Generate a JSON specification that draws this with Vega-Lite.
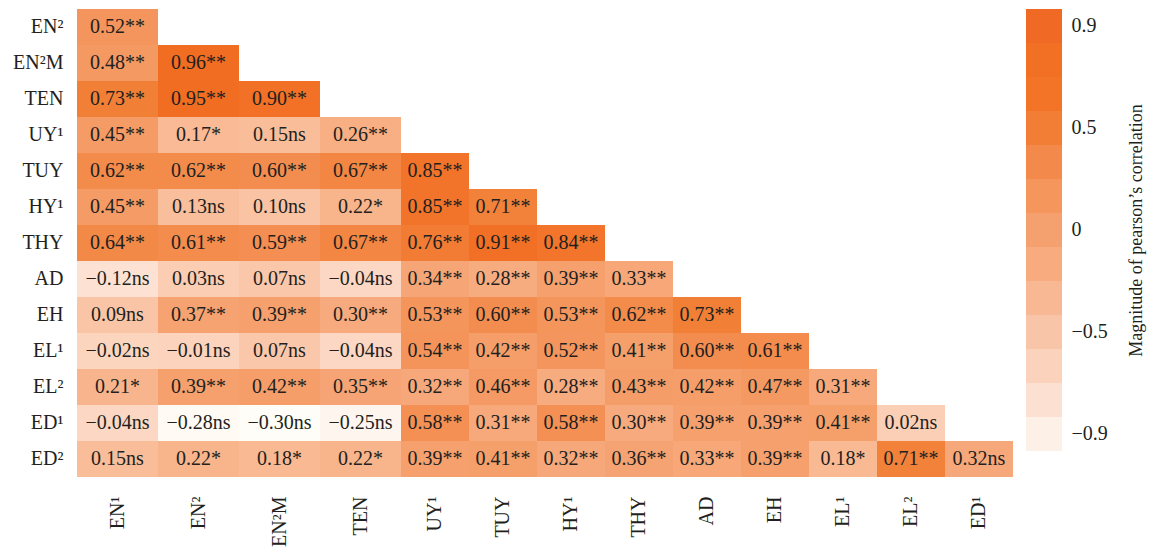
{
  "$schema": "https://vega.github.io/schema/vega-lite/v6.json",
  "padding": {"left": 5, "top": 9, "right": 5, "bottom": 5},
  "background": "white",
  "config": {
    "view": {"stroke": null},
    "font": "Liberation Serif",
    "axis": {"domain": false, "ticks": false, "grid": false, "labelFont": "Liberation Serif", "labelColor": "#231f20", "titleFont": "Liberation Serif", "titleColor": "#231f20", "titleFontWeight": "normal"}
  },
  "datasets": {
    "corr": [
      {"row": "EN²", "col": "EN¹", "r": 0.52, "txt": "0.52**"},
      {"row": "EN²M", "col": "EN¹", "r": 0.48, "txt": "0.48**"},
      {"row": "EN²M", "col": "EN²", "r": 0.96, "txt": "0.96**"},
      {"row": "TEN", "col": "EN¹", "r": 0.73, "txt": "0.73**"},
      {"row": "TEN", "col": "EN²", "r": 0.95, "txt": "0.95**"},
      {"row": "TEN", "col": "EN²M", "r": 0.90, "txt": "0.90**"},
      {"row": "UY¹", "col": "EN¹", "r": 0.45, "txt": "0.45**"},
      {"row": "UY¹", "col": "EN²", "r": 0.17, "txt": "0.17*"},
      {"row": "UY¹", "col": "EN²M", "r": 0.15, "txt": "0.15ns"},
      {"row": "UY¹", "col": "TEN", "r": 0.26, "txt": "0.26**"},
      {"row": "TUY", "col": "EN¹", "r": 0.62, "txt": "0.62**"},
      {"row": "TUY", "col": "EN²", "r": 0.62, "txt": "0.62**"},
      {"row": "TUY", "col": "EN²M", "r": 0.60, "txt": "0.60**"},
      {"row": "TUY", "col": "TEN", "r": 0.67, "txt": "0.67**"},
      {"row": "TUY", "col": "UY¹", "r": 0.85, "txt": "0.85**"},
      {"row": "HY¹", "col": "EN¹", "r": 0.45, "txt": "0.45**"},
      {"row": "HY¹", "col": "EN²", "r": 0.13, "txt": "0.13ns"},
      {"row": "HY¹", "col": "EN²M", "r": 0.10, "txt": "0.10ns"},
      {"row": "HY¹", "col": "TEN", "r": 0.22, "txt": "0.22*"},
      {"row": "HY¹", "col": "UY¹", "r": 0.85, "txt": "0.85**"},
      {"row": "HY¹", "col": "TUY", "r": 0.71, "txt": "0.71**"},
      {"row": "THY", "col": "EN¹", "r": 0.64, "txt": "0.64**"},
      {"row": "THY", "col": "EN²", "r": 0.61, "txt": "0.61**"},
      {"row": "THY", "col": "EN²M", "r": 0.59, "txt": "0.59**"},
      {"row": "THY", "col": "TEN", "r": 0.67, "txt": "0.67**"},
      {"row": "THY", "col": "UY¹", "r": 0.76, "txt": "0.76**"},
      {"row": "THY", "col": "TUY", "r": 0.91, "txt": "0.91**"},
      {"row": "THY", "col": "HY¹", "r": 0.84, "txt": "0.84**"},
      {"row": "AD", "col": "EN¹", "r": -0.12, "txt": "−0.12ns"},
      {"row": "AD", "col": "EN²", "r": 0.03, "txt": "0.03ns"},
      {"row": "AD", "col": "EN²M", "r": 0.07, "txt": "0.07ns"},
      {"row": "AD", "col": "TEN", "r": -0.04, "txt": "−0.04ns"},
      {"row": "AD", "col": "UY¹", "r": 0.34, "txt": "0.34**"},
      {"row": "AD", "col": "TUY", "r": 0.28, "txt": "0.28**"},
      {"row": "AD", "col": "HY¹", "r": 0.39, "txt": "0.39**"},
      {"row": "AD", "col": "THY", "r": 0.33, "txt": "0.33**"},
      {"row": "EH", "col": "EN¹", "r": 0.09, "txt": "0.09ns"},
      {"row": "EH", "col": "EN²", "r": 0.37, "txt": "0.37**"},
      {"row": "EH", "col": "EN²M", "r": 0.39, "txt": "0.39**"},
      {"row": "EH", "col": "TEN", "r": 0.30, "txt": "0.30**"},
      {"row": "EH", "col": "UY¹", "r": 0.53, "txt": "0.53**"},
      {"row": "EH", "col": "TUY", "r": 0.60, "txt": "0.60**"},
      {"row": "EH", "col": "HY¹", "r": 0.53, "txt": "0.53**"},
      {"row": "EH", "col": "THY", "r": 0.62, "txt": "0.62**"},
      {"row": "EH", "col": "AD", "r": 0.73, "txt": "0.73**"},
      {"row": "EL¹", "col": "EN¹", "r": -0.02, "txt": "−0.02ns"},
      {"row": "EL¹", "col": "EN²", "r": -0.01, "txt": "−0.01ns"},
      {"row": "EL¹", "col": "EN²M", "r": 0.07, "txt": "0.07ns"},
      {"row": "EL¹", "col": "TEN", "r": -0.04, "txt": "−0.04ns"},
      {"row": "EL¹", "col": "UY¹", "r": 0.54, "txt": "0.54**"},
      {"row": "EL¹", "col": "TUY", "r": 0.42, "txt": "0.42**"},
      {"row": "EL¹", "col": "HY¹", "r": 0.52, "txt": "0.52**"},
      {"row": "EL¹", "col": "THY", "r": 0.41, "txt": "0.41**"},
      {"row": "EL¹", "col": "AD", "r": 0.60, "txt": "0.60**"},
      {"row": "EL¹", "col": "EH", "r": 0.61, "txt": "0.61**"},
      {"row": "EL²", "col": "EN¹", "r": 0.21, "txt": "0.21*"},
      {"row": "EL²", "col": "EN²", "r": 0.39, "txt": "0.39**"},
      {"row": "EL²", "col": "EN²M", "r": 0.42, "txt": "0.42**"},
      {"row": "EL²", "col": "TEN", "r": 0.35, "txt": "0.35**"},
      {"row": "EL²", "col": "UY¹", "r": 0.32, "txt": "0.32**"},
      {"row": "EL²", "col": "TUY", "r": 0.46, "txt": "0.46**"},
      {"row": "EL²", "col": "HY¹", "r": 0.28, "txt": "0.28**"},
      {"row": "EL²", "col": "THY", "r": 0.43, "txt": "0.43**"},
      {"row": "EL²", "col": "AD", "r": 0.42, "txt": "0.42**"},
      {"row": "EL²", "col": "EH", "r": 0.47, "txt": "0.47**"},
      {"row": "EL²", "col": "EL¹", "r": 0.31, "txt": "0.31**"},
      {"row": "ED¹", "col": "EN¹", "r": -0.04, "txt": "−0.04ns"},
      {"row": "ED¹", "col": "EN²", "r": -0.28, "txt": "−0.28ns"},
      {"row": "ED¹", "col": "EN²M", "r": -0.30, "txt": "−0.30ns"},
      {"row": "ED¹", "col": "TEN", "r": -0.25, "txt": "−0.25ns"},
      {"row": "ED¹", "col": "UY¹", "r": 0.58, "txt": "0.58**"},
      {"row": "ED¹", "col": "TUY", "r": 0.31, "txt": "0.31**"},
      {"row": "ED¹", "col": "HY¹", "r": 0.58, "txt": "0.58**"},
      {"row": "ED¹", "col": "THY", "r": 0.30, "txt": "0.30**"},
      {"row": "ED¹", "col": "AD", "r": 0.39, "txt": "0.39**"},
      {"row": "ED¹", "col": "EH", "r": 0.39, "txt": "0.39**"},
      {"row": "ED¹", "col": "EL¹", "r": 0.41, "txt": "0.41**"},
      {"row": "ED¹", "col": "EL²", "r": 0.02, "txt": "0.02ns"},
      {"row": "ED²", "col": "EN¹", "r": 0.15, "txt": "0.15ns"},
      {"row": "ED²", "col": "EN²", "r": 0.22, "txt": "0.22*"},
      {"row": "ED²", "col": "EN²M", "r": 0.18, "txt": "0.18*"},
      {"row": "ED²", "col": "TEN", "r": 0.22, "txt": "0.22*"},
      {"row": "ED²", "col": "UY¹", "r": 0.39, "txt": "0.39**"},
      {"row": "ED²", "col": "TUY", "r": 0.41, "txt": "0.41**"},
      {"row": "ED²", "col": "HY¹", "r": 0.32, "txt": "0.32**"},
      {"row": "ED²", "col": "THY", "r": 0.36, "txt": "0.36**"},
      {"row": "ED²", "col": "AD", "r": 0.33, "txt": "0.33**"},
      {"row": "ED²", "col": "EH", "r": 0.39, "txt": "0.39**"},
      {"row": "ED²", "col": "EL¹", "r": 0.18, "txt": "0.18*"},
      {"row": "ED²", "col": "EL²", "r": 0.71, "txt": "0.71**"},
      {"row": "ED²", "col": "ED¹", "r": 0.32, "txt": "0.32ns"}
    ],
    "legend": [
      {"step": 1}, {"step": 2}, {"step": 3}, {"step": 4}, {"step": 5}, {"step": 6}, {"step": 7},
      {"step": 8}, {"step": 9}, {"step": 10}, {"step": 11}, {"step": 12}, {"step": 13}
    ]
  },
  "resolve": {"scale": {"color": "independent", "x": "independent", "y": "independent"}},
  "spacing": 13,
  "hconcat": [
    {
      "resolve": {"scale": {"color": "independent", "x": "independent", "y": "independent"}},
      "spacing": 0,
      "hconcat": [
        {
          "data": {"name": "corr"},
          "transform": [{"filter": {"field": "col", "oneOf": ["EN¹", "EN²", "EN²M", "TEN"]}}],
          "width": 324,
          "height": 468,
          "encoding": {
            "x": {"field": "col", "type": "nominal", "scale": {"domain": ["EN¹", "EN²", "EN²M", "TEN"], "paddingInner": 0, "paddingOuter": 0}, "axis": {"title": null, "labelAngle": -90, "labelFontSize": 20, "labelPadding": 19}},
            "y": {"field": "row", "type": "nominal", "scale": {"domain": ["EN²", "EN²M", "TEN", "UY¹", "TUY", "HY¹", "THY", "AD", "EH", "EL¹", "EL²", "ED¹", "ED²"], "paddingInner": 0, "paddingOuter": 0}, "axis": {"title": null, "labelFontSize": 20, "labelPadding": 14, "minExtent": 72, "maxExtent": 72}}
          },
          "layer": [
            {"mark": {"type": "rect"}, "encoding": {"color": {"field": "r", "type": "quantitative", "scale": {"type": "linear", "domain": [-0.30, -0.25, -0.12, -0.03, 0.05, 0.14, 0.24, 0.36, 0.45, 0.55, 0.63, 0.73, 0.85, 0.95], "range": ["#ffffff", "#fef5ef", "#fde2d3", "#fcd6c1", "#fbcaaf", "#f9be9b", "#f8b187", "#f6a373", "#f59b65", "#f4935a", "#f38a49", "#f27f36", "#f2742a", "#f16d22"], "clamp": true}, "legend": null}}},
            {"mark": {"type": "text", "fontSize": 20, "color": "#231f20", "font": "Liberation Serif"}, "encoding": {"text": {"field": "txt", "type": "nominal"}}}
          ]
        },
        {
          "data": {"name": "corr"},
          "transform": [{"filter": {"not": {"field": "col", "oneOf": ["EN¹", "EN²", "EN²M", "TEN"]}}}],
          "width": 612,
          "height": 468,
          "encoding": {
            "x": {"field": "col", "type": "nominal", "scale": {"domain": ["UY¹", "TUY", "HY¹", "THY", "AD", "EH", "EL¹", "EL²", "ED¹"], "paddingInner": 0, "paddingOuter": 0}, "axis": {"title": null, "labelAngle": -90, "labelFontSize": 20, "labelPadding": 19}},
            "y": {"field": "row", "type": "nominal", "scale": {"domain": ["EN²", "EN²M", "TEN", "UY¹", "TUY", "HY¹", "THY", "AD", "EH", "EL¹", "EL²", "ED¹", "ED²"], "paddingInner": 0, "paddingOuter": 0}, "axis": null}
          },
          "layer": [
            {"mark": {"type": "rect"}, "encoding": {"color": {"field": "r", "type": "quantitative", "scale": {"type": "linear", "domain": [-0.30, -0.25, -0.12, -0.03, 0.05, 0.14, 0.24, 0.36, 0.45, 0.55, 0.63, 0.73, 0.85, 0.95], "range": ["#ffffff", "#fef5ef", "#fde2d3", "#fcd6c1", "#fbcaaf", "#f9be9b", "#f8b187", "#f6a373", "#f59b65", "#f4935a", "#f38a49", "#f27f36", "#f2742a", "#f16d22"], "clamp": true}, "legend": null}}},
            {"mark": {"type": "text", "fontSize": 20, "color": "#231f20", "font": "Liberation Serif"}, "encoding": {"text": {"field": "txt", "type": "nominal"}}}
          ]
        }
      ]
    },
    {
      "data": {"name": "legend"},
      "width": 36,
      "height": 442,
      "mark": {"type": "rect"},
      "encoding": {
        "y": {"field": "step", "type": "ordinal", "scale": {"paddingInner": 0, "paddingOuter": 0}, "axis": {"orient": "right", "title": "Magnitude of pearson’s correlation", "titleFontSize": 18, "titleAngle": 270, "titleBaseline": "top", "titlePadding": 20, "labelFontSize": 20, "labelPadding": 9, "labelExpr": "datum.value == 1 ? '0.9' : datum.value == 4 ? '0.5' : datum.value == 7 ? '0' : datum.value == 10 ? '−0.5' : datum.value == 13 ? '−0.9' : ''"}},
        "color": {"field": "step", "type": "ordinal", "scale": {"domain": [1, 2, 3, 4, 5, 6, 7, 8, 9, 10, 11, 12, 13], "range": ["#f06a25", "#f27024", "#f37426", "#f27e35", "#f38a4b", "#f5965d", "#f5a06f", "#f7ab7f", "#f8b893", "#f9c5a8", "#fbd3bc", "#fce1d2", "#fdf0e7"]}, "legend": null}
      }
    }
  ]
}
